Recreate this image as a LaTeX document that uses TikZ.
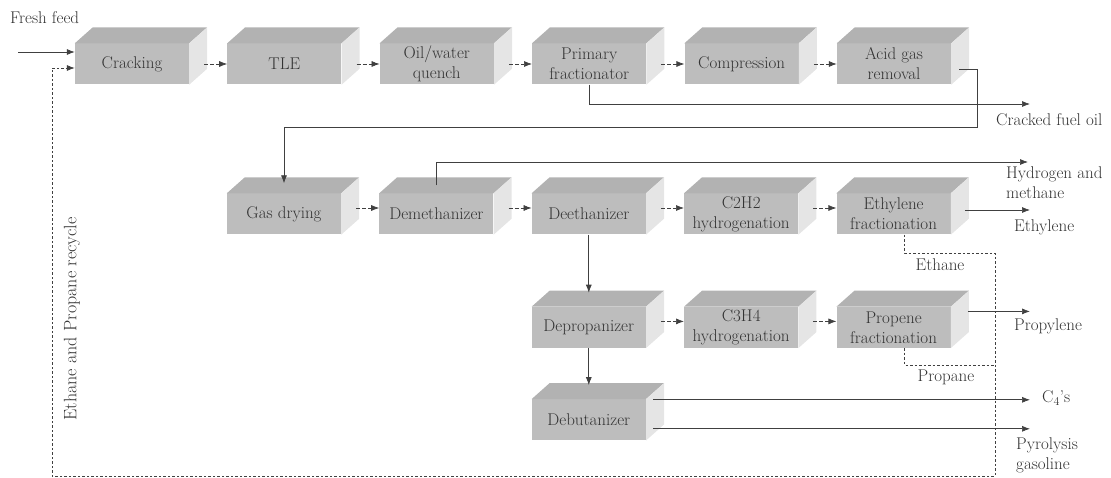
\documentclass[tikz,border=0pt]{standalone}
\usetikzlibrary{arrows.meta, positioning}

\colorlet{frontgray}{gray!52}
\colorlet{topgray}{gray!60}
\colorlet{sidegray}{gray!20}
\colorlet{linegray}{black!75}

\tikzset{
  unit/.style={rectangle, fill=frontgray, minimum width=114pt, minimum height=41pt,
    inner sep=1pt, align=center, text=black!80, font=\fontsize{17}{20}\selectfont},
  topface/.style={fill=topgray},
  sideface/.style={fill=sidegray},
  line/.style={draw=linegray, line width=0.7pt, -{Latex[length=8pt,width=6pt]}},
  flow/.style={line, dash pattern=on 4pt off 2pt},
  recycle/.style={line, dash pattern=on 2.5pt off 2pt},
  lbl/.style={inner sep=1pt, text=black!80, font=\fontsize{17}{20}\selectfont}
}

\begin{document}
\begin{tikzpicture}[x=1pt, y=-1pt, node distance=38pt]
  \useasboundingbox (0,0) rectangle (1111,478);

  % first row
  \node[unit] (crack) at (132,64) {Cracking};
  \node[unit, right=of crack] (tle) {TLE};
  \node[unit, right=of tle] (quench) {Oil/water\\quench};
  \node[unit, right=of quench] (primfrac) {Primary\\fractionator};
  \node[unit, right=of primfrac] (compress) {Compression};
  \node[unit, right=of compress] (acid) {Acid gas\\removal};

  % second row
  \node[unit] (gasdry) at (284,214) {Gas drying};
  \node[unit, right=of gasdry] (demeth) {Demethanizer};
  \node[unit, right=of demeth] (deeth) {Deethanizer};
  \node[unit, right=of deeth] (c2h2) {C2H2\\hydrogenation};
  \node[unit, right=of c2h2] (ethfrac) {Ethylene\\fractionation};

  % third row and debutanizer
  \node[unit, below=72pt of deeth] (deprop) {Depropanizer};
  \node[unit, right=of deprop] (c3h4) {C3H4\\hydrogenation};
  \node[unit, right=of c3h4] (propfrac) {Propene\\fractionation};
  \node[unit, below=51pt of deprop] (debut) {Debutanizer};

  % top and side faces of the boxes
  \foreach \n in {crack,tle,quench,primfrac,compress,acid,gasdry,demeth,deeth,c2h2,ethfrac,deprop,c3h4,propfrac,debut} {
    \fill[topface] (\n.north west) -- ([shift={(18,-16)}]\n.north west)
      -- ([shift={(18,-16)}]\n.north east) -- (\n.north east) -- cycle;
    \fill[sideface] (\n.north east) -- ([shift={(18,-16)}]\n.north east)
      -- ([shift={(18,-16)}]\n.south east) -- (\n.south east) -- cycle;
  }

  % stream labels
  \node[lbl, anchor=west] (feed) at (9,18) {Fresh feed};
  \node[lbl, anchor=west] (fuel) at (995,120) {Cracked fuel oil};
  \node[lbl, anchor=west, align=left] (h2) at (1005,183) {Hydrogen and\\methane};
  \node[lbl, anchor=west] (ethylene) at (1013,227) {Ethylene};
  \node[lbl] (ethane) at (940,265) {Ethane};
  \node[lbl, anchor=west] (propylene) at (1013,326) {Propylene};
  \node[lbl] (propane) at (946,377) {Propane};
  \node[lbl, anchor=west] (c4) at (1041,398) {C$_4$'s};
  \node[lbl, anchor=west, align=left] (pygas) at (1015,455) {Pyrolysis\\gasoline};
  \node[lbl, rotate=90, font=\fontsize{18}{20}\selectfont] (recyc) at (72,319) {Ethane and Propane recycle};

  % end points of the streams
  \coordinate (feedin) at (18,52);
  \coordinate (fuelout) at (1030,104);
  \coordinate (acidturn) at (977,127);
  \coordinate (h2out) at (1028,162);
  \coordinate (rightend) at (1030,0);
  \coordinate (rcright) at (995,253);
  \coordinate (propj) at (995,365);
  \coordinate (rcleft) at (52,476);
  \coordinate (ethin) at ([shift={(14,-4)}]ethfrac.east);
  \coordinate (propyin) at ([shift={(17,-16)}]propfrac.east);
  \coordinate (c4in) at ([shift={(7,-20)}]debut.east);
  \coordinate (pyin) at ([shift={(7,9)}]debut.east);

  % connectors
  \draw[line] (feedin) -- (feedin -| crack.west);
  \foreach \a/\b in {crack/tle, tle/quench, quench/primfrac, primfrac/compress, compress/acid}
    \draw[flow] ([xshift=15pt]\a.east) -- (\b.west);
  \foreach \a/\b in {gasdry/demeth, demeth/deeth, deeth/c2h2, c2h2/ethfrac, deprop/c3h4, c3h4/propfrac}
    \draw[flow] ([shift={(15,-6)}]\a.east) -- ([yshift=6pt]\b.west);
  \draw[line] (primfrac.south) |- (fuelout);
  \draw[line] ([shift={(8,5)}]acid.east) -| (acidturn) -| ([yshift=10pt]gasdry.north);
  \draw[line] ([yshift=8pt]demeth.north) |- (h2out);
  \draw[line] (deeth.south) -- ([yshift=14pt]deprop.north);
  \draw[line] (deprop.south) -- ([yshift=14pt]debut.north);
  \draw[line] (ethin) -- (ethin -| rightend);
  \draw[line] (propyin) -- (propyin -| rightend);
  \draw[line] (c4in) -- (c4in -| rightend);
  \draw[line] (pyin) -- (pyin -| rightend);
  \draw[recycle] ([xshift=11pt]ethfrac.south) |- (rcright) |- (rcleft) |- ([yshift=-4pt]crack.west);
  \draw[recycle, -] ([xshift=11pt]propfrac.south) |- (propj);
\end{tikzpicture}
\end{document}
